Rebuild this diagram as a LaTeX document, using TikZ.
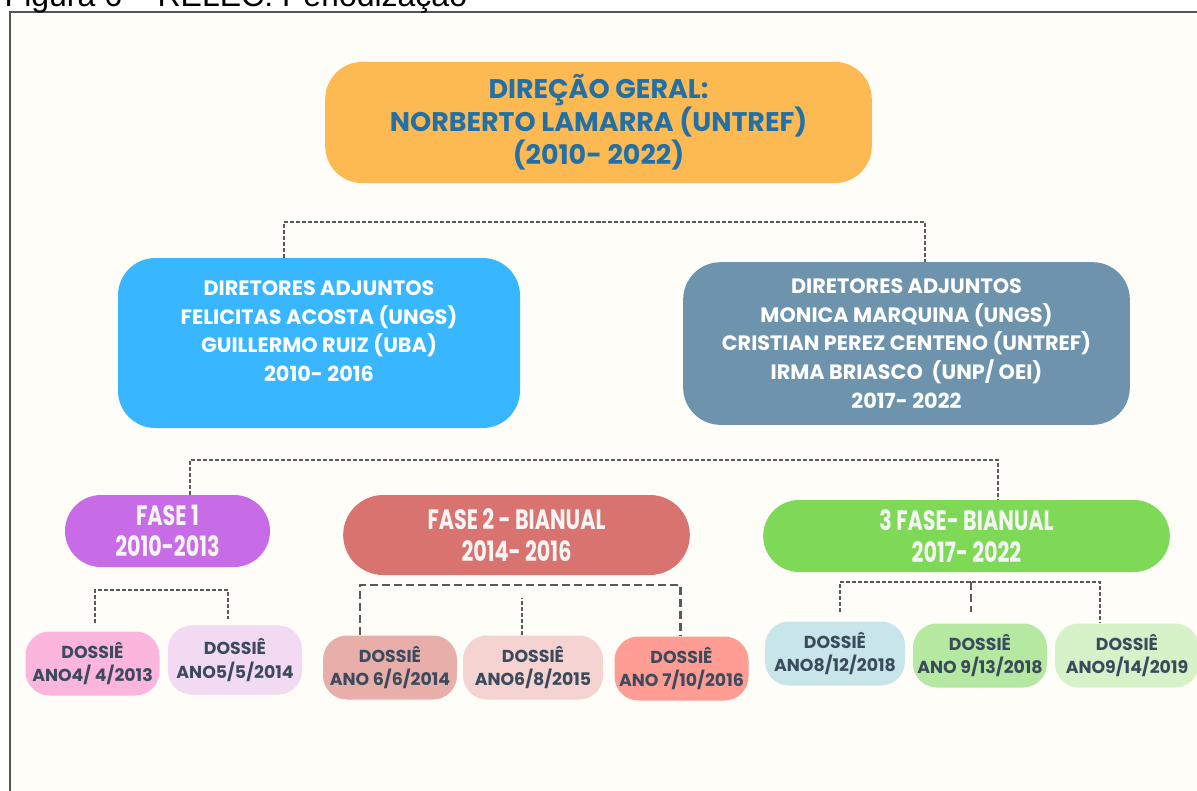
\documentclass[tikz,border=0pt]{standalone}
\usepackage{fontspec}
\setmainfont{Poppins}
\newfontfamily\capfont{Liberation Sans}
\newfontfamily\narrowfont[FakeStretch=0.74]{Poppins}
\usepackage{tikz}
\usetikzlibrary{positioning}

\definecolor{papel}{HTML}{FEFDF8}
\definecolor{moldura}{HTML}{555555}
\definecolor{traco}{HTML}{5A5A5A}
\definecolor{ouro}{HTML}{FDBA53}
\definecolor{azulgeral}{HTML}{2270A6}
\definecolor{celeste}{HTML}{38B6FF}
\definecolor{acoazul}{HTML}{6E93AC}
\definecolor{lilas}{HTML}{C86BE6}
\definecolor{coral}{HTML}{D9736F}
\definecolor{verde}{HTML}{7ED957}
\definecolor{ardosia}{HTML}{3B4A5C}
\definecolor{rosaA}{HTML}{FCB5DD}
\definecolor{rosaB}{HTML}{F2DAF2}
\definecolor{rosaC}{HTML}{E8AEA9}
\definecolor{rosaD}{HTML}{F4D3D1}
\definecolor{rosaE}{HTML}{FF9D95}
\definecolor{azulD}{HTML}{C8E6EA}
\definecolor{verdeD}{HTML}{B5E8A0}
\definecolor{verdeE}{HTML}{D7F2C9}

\tikzset{
  caixa/.style={rectangle, align=center, inner sep=0pt, font=\bfseries},
  geral/.style={caixa, fill=ouro, rounded corners=28pt, minimum width=410pt, minimum height=91pt,
    text=azulgeral, font=\bfseries\fontsize{20.2}{24.75}\selectfont},
  adjunto/.style={caixa, rounded corners=28pt, text=white, font=\bfseries\fontsize{15.6}{21.5}\selectfont},
  fase/.style={caixa, rounded corners=27pt, text=white!96!black, font=\narrowfont\bfseries\fontsize{21}{23.5}\selectfont},
  dossie/.style={caixa, rounded corners=18pt, minimum width=100.5pt, minimum height=48pt,
    text=ardosia, font=\bfseries\fontsize{13}{17.4}\selectfont},
  ligacao/.style={traco, line width=1.1pt, dash pattern=on 3pt off 1.5pt},
  ligacaogrossa/.style={traco, line width=2.2pt, dash pattern=on 6pt off 3pt}
}

\begin{document}
\begin{tikzpicture}[x=0.75pt,y=-0.75pt]
  \useasboundingbox (0,0) rectangle (1197,790);
  \clip (0,0) rectangle (1197,790);
  \fill[white] (0,0) rectangle (1197,790);
  \draw[moldura, line width=1.5pt, fill=papel] (10,12) rectangle (1220,805);
  \node[anchor=base west, font=\capfont\fontsize{24}{28}\selectfont] (titulo) at (0,6) {Figura 6 – RELEC: Periodização};

  \node[geral] (direcao) at (598.5,122.5) {DIREÇÃO GERAL:\\ NORBERTO LAMARRA (UNTREF)\\ (2010- 2022)};

  \node[adjunto, fill=celeste, minimum width=301.5pt, minimum height=127.5pt] (adjA) at (319,343)
    {DIRETORES ADJUNTOS\\ FELICITAS ACOSTA (UNGS)\\ GUILLERMO RUIZ (UBA)\\ 2010- 2016\\[-3.75pt]\mbox{}};
  \node[adjunto, fill=acoazul, minimum width=335pt, minimum height=122pt] (adjB) at (906.5,343.5)
    {DIRETORES ADJUNTOS\\ MONICA MARQUINA (UNGS)\\ CRISTIAN PEREZ CENTENO (UNTREF)\\ IRMA BRIASCO\ \ (UNP/ OEI)\\ 2017- 2022};

  \node[fase, fill=lilas, minimum width=153.75pt, minimum height=54pt] (fase1) at (167.5,531) {FASE 1\\ 2010-2013};
  \node[fase, fill=coral, rounded corners=30pt, minimum width=260pt, minimum height=60pt] (fase2) at (516.5,535) {FASE 2 - BIANUAL\\ 2014- 2016};
  \node[fase, fill=verde, minimum width=305pt, minimum height=54pt] (fase3) at (966.5,536) {3 FASE- BIANUAL\\ 2017- 2022};

  \node[dossie, fill=rosaA] (d1) at (92.5,663.5) {DOSSIÊ\\ ANO4/ 4/2013};
  \node[dossie, fill=rosaB, minimum height=52pt] (d2) at (235,660) {DOSSIÊ\\ ANO5/5/2014};
  \node[dossie, fill=rosaC] (d3) at (390,667.5) {DOSSIÊ\\ ANO 6/6/2014};
  \node[dossie, fill=rosaD, minimum width=105pt] (d4) at (533,667.5) {DOSSIÊ\\ ANO6/8/2015};
  \node[dossie, fill=rosaE] (d5) at (681.5,668.5) {DOSSIÊ\\ ANO 7/10/2016};
  \node[dossie, fill=azulD, minimum width=105pt] (d6) at (835,653.5) {DOSSIÊ\\ ANO8/12/2018};
  \node[dossie, fill=verdeD] (d7) at (980,655.5) {DOSSIÊ\\ ANO 9/13/2018};
  \node[dossie, fill=verdeE, minimum width=108pt] (d8) at (1127,655.5) {DOSSIÊ\\ ANO9/14/2019};

  \coordinate (barra1) at (600,222);
  \coordinate (barra2) at (600,460);
  \coordinate (barra3) at (160,590);
  \coordinate (barra4) at (520,585);
  \coordinate (barra5) at (970,582);

  \draw[ligacao] ([xshift=-26.25pt]adjA.north) |- (barra1) -| ([xshift=13.9pt]adjB.north);
  \draw[ligacao] ([xshift=16.9pt]fase1.north) |- (barra2) -| ([xshift=23.6pt]fase3.north);
  \draw[ligacao, shorten <=6pt] ([xshift=1.9pt]d1.north) |- (barra3) -| ([xshift=-5.25pt,yshift=4.5pt]d2.north);
  \draw[ligacaogrossa] ([xshift=-22.5pt]d3.north) |- (barra4) -| ([xshift=-1.1pt]d5.north);
  \draw[ligacao] ([xshift=-8.25pt]d4.north) -- ++(0,-37);
  \draw[ligacao, shorten <=7pt] ([xshift=3.75pt]d6.north) |- (barra5) -| ([xshift=-20.25pt]d8.north);
  \draw[ligacaogrossa] (barra5 -| d7.north) ++(-9,0) -- ++(0,30);
\end{tikzpicture}
\end{document}
